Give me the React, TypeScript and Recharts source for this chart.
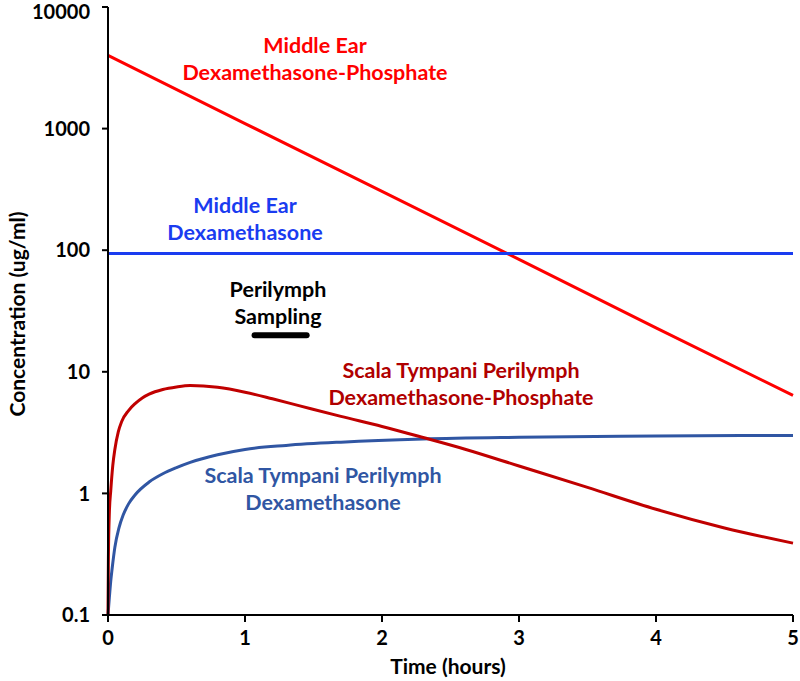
import { LineChart, Line, XAxis, YAxis, ReferenceLine } from 'recharts';

// time (hours) / concentration (ug/ml)
const meDexPTime = [0, 1, 2, 3, 4, 5];
const meDexPConc = [4000, 1100, 305, 84, 23, 6.4];

const meDexTime = [0, 5];
const meDexConc = [94, 94];

const stDexPTime = [0, 0.003, 0.01, 0.02, 0.035, 0.05, 0.075, 0.1, 0.15, 0.2, 0.25, 0.3, 0.4, 0.5, 0.6, 0.8, 1.0, 1.2, 1.4, 1.7, 2.0, 2.3, 2.6, 3.0, 3.5, 4.0, 4.5, 5.0];
const stDexPConc = [0.1, 0.3, 0.7, 1.05, 1.7, 2.3, 3.2, 3.9, 4.8, 5.5, 6.1, 6.55, 7.15, 7.5, 7.7, 7.45, 6.8, 6.0, 5.25, 4.3, 3.55, 2.88, 2.32, 1.68, 1.12, 0.74, 0.52, 0.39];

const stDexTime = [0, 0.01, 0.02, 0.03, 0.05, 0.08, 0.11, 0.15, 0.2, 0.3, 0.4, 0.5, 0.6, 0.8, 1.0, 1.3, 1.7, 2.3, 3.0, 4.0, 5.0];
const stDexConc = [0.1, 0.14, 0.19, 0.24, 0.36, 0.52, 0.66, 0.82, 0.98, 1.24, 1.45, 1.63, 1.8, 2.08, 2.3, 2.48, 2.64, 2.8, 2.89, 2.96, 3.0];

const xTicks = [0, 1, 2, 3, 4, 5];
const yTicks = [0.1, 1, 10, 100, 1000, 10000];

const samplingWindow = [1.07, 1.45];
const samplingLevel = 20;

const zip = (t: number[], c: number[]) => t.map((x, i) => ({ t: x, c: c[i] }));

const FONT = 'Lato, "Open Sans", sans-serif';

const labels = [
  { lines: ['Middle Ear', 'Dexamethasone-Phosphate'], x: 315, y: 45, color: '#ff0000' },
  { lines: ['Middle Ear', 'Dexamethasone'], x: 245, y: 205, color: '#1a3cf0' },
  { lines: ['Perilymph', 'Sampling'], x: 278, y: 289, color: '#000000' },
  { lines: ['Scala Tympani Perilymph', 'Dexamethasone-Phosphate'], x: 461, y: 370, color: '#b00000' },
  { lines: ['Scala Tympani Perilymph', 'Dexamethasone'], x: 323, y: 475, color: '#3056a3' },
];

export default function App() {
  return (
    <div style={{ position: 'absolute', left: 0, top: 0, width: 800, height: 681, background: '#fff' }}>
      <LineChart
        width={800}
        height={681}
        margin={{ top: 7, right: 7, bottom: 16, left: 0 }}
        style={{ fontFamily: FONT }}
      >
        <XAxis
          type="number"
          dataKey="t"
          domain={[0, 5]}
          ticks={xTicks}
          allowDuplicatedCategory={false}
          height={50}
          stroke="#000"
          strokeWidth={2}
          tickSize={7}
          tickMargin={9}
          tick={{ fill: '#000', fontSize: 20, fontWeight: 700 }}
        />
        <YAxis
          type="number"
          scale="log"
          domain={[0.1, 10000]}
          allowDataOverflow
          ticks={yTicks}
          width={108}
          stroke="#000"
          strokeWidth={2}
          tickSize={6}
          tickMargin={12}
          tick={{ fill: '#000', fontSize: 20, fontWeight: 700 }}
          tickFormatter={(v: number) => String(v)}
        />
        <Line data={zip(meDexPTime, meDexPConc)} dataKey="c" type="linear" stroke="#ff0000" strokeWidth={3} dot={false} isAnimationActive={false} />
        <Line data={zip(meDexTime, meDexConc)} dataKey="c" type="linear" stroke="#1a3cf0" strokeWidth={3} dot={false} isAnimationActive={false} />
        <Line data={zip(stDexTime, stDexConc)} dataKey="c" type="monotone" stroke="#3056a3" strokeWidth={3} dot={false} isAnimationActive={false} />
        <Line data={zip(stDexPTime, stDexPConc)} dataKey="c" type="monotone" stroke="#c00000" strokeWidth={3} dot={false} isAnimationActive={false} />
        <ReferenceLine
          segment={[{ x: samplingWindow[0], y: samplingLevel }, { x: samplingWindow[1], y: samplingLevel }]}
          stroke="#000"
          strokeWidth={6}
          strokeLinecap="round"
        />
      </LineChart>
      <svg width={800} height={681} style={{ position: 'absolute', left: 0, top: 0, pointerEvents: 'none' }}>
        <text
          x={16}
          y={314}
          transform="rotate(-90 16 314)"
          textAnchor="middle"
          dominantBaseline="central"
          fontFamily={FONT}
          fontSize={21}
          fontWeight={700}
          fill="#000"
        >
          Concentration (ug/ml)
        </text>
        <text x={448} y={665} textAnchor="middle" dominantBaseline="central" fontFamily={FONT} fontSize={21} fontWeight={700} fill="#000">
          Time (hours)
        </text>
        {labels.map((l, i) => (
          <text key={i} textAnchor="middle" fontFamily={FONT} fontSize={21.5} fontWeight={700} fill={l.color}>
            {l.lines.map((s, j) => (
              <tspan key={j} x={l.x} y={l.y + j * 27} dominantBaseline="central">
                {s}
              </tspan>
            ))}
          </text>
        ))}
      </svg>
    </div>
  );
}
